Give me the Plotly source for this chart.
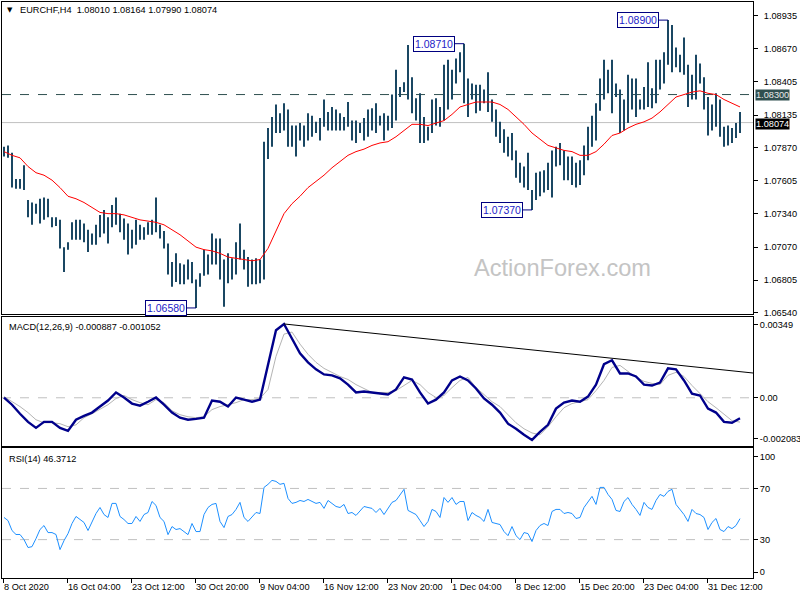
import plotly.graph_objects as go

# ---------------- data ----------------
bar_high = [1.0788, 1.0789, 1.0783, 1.0762, 1.0762, 1.0773, 1.0745, 1.0743, 1.0742, 1.0746,
            1.0747, 1.0746, 1.0731, 1.0731, 1.0729, 1.0707, 1.0711, 1.0727, 1.0729, 1.0729,
            1.0726, 1.0721, 1.0718, 1.0725, 1.0733, 1.0737, 1.0731, 1.0741, 1.0747, 1.0734,
            1.0730, 1.0726, 1.0721, 1.0729, 1.0725, 1.0723, 1.0727, 1.0729, 1.0747, 1.0725,
            1.0720, 1.0710, 1.0695, 1.0702, 1.0694, 1.0693, 1.0697, 1.0695, 1.0681, 1.0686,
            1.0705, 1.0701, 1.0718, 1.0714, 1.0714, 1.0697, 1.0702, 1.0698, 1.0711, 1.0726,
            1.0705, 1.0699, 1.0697, 1.0698, 1.0697, 1.0792, 1.0803, 1.0812, 1.0822, 1.0815,
            1.0823, 1.0818, 1.0805, 1.0805, 1.0807, 1.0805, 1.0815, 1.0813, 1.0808, 1.0811,
            1.0826, 1.0816, 1.0820, 1.0818, 1.0815, 1.0812, 1.0824, 1.0809, 1.0809, 1.0807,
            1.0811, 1.0818, 1.0819, 1.0823, 1.0813, 1.0815, 1.0813, 1.0830, 1.0850, 1.0836,
            1.0840, 1.0870, 1.0844, 1.0827, 1.0831, 1.0812, 1.0804, 1.0826, 1.0827, 1.0820,
            1.0854, 1.0858, 1.0850, 1.0859, 1.0864, 1.0871, 1.0843, 1.0839, 1.0838, 1.0838,
            1.0834, 1.0848, 1.0826, 1.0818, 1.0808, 1.0802, 1.0796, 1.0799, 1.0785, 1.0775,
            1.0772, 1.0783, 1.0753, 1.0767, 1.0768, 1.0769, 1.0775, 1.0785, 1.0788, 1.0791,
            1.0785, 1.0780, 1.0780, 1.0775, 1.0777, 1.0789, 1.0804, 1.0813, 1.0823, 1.0843,
            1.0858, 1.0850, 1.0858, 1.0839, 1.0834, 1.0826, 1.0846, 1.0843, 1.0843, 1.0826,
            1.0836, 1.0856, 1.0835, 1.0858, 1.0858, 1.0864, 1.0890, 1.0886, 1.0868, 1.0862,
            1.0876, 1.0854, 1.0846, 1.0862, 1.0855, 1.0844, 1.0828, 1.0822, 1.0831, 1.0826,
            1.0804, 1.0805, 1.0803, 1.0807, 1.0816]

bar_low = [1.0780, 1.0779, 1.0755, 1.0754, 1.0754, 1.0753, 1.0731, 1.0725, 1.0734, 1.0726,
           1.0729, 1.0731, 1.0723, 1.0724, 1.0706, 1.0687, 1.0705, 1.0713, 1.0713, 1.0713,
           1.0711, 1.0703, 1.0709, 1.0709, 1.0715, 1.0718, 1.0710, 1.0723, 1.0725, 1.0719,
           1.0713, 1.0701, 1.0706, 1.0709, 1.0713, 1.0713, 1.0717, 1.0717, 1.0719, 1.0714,
           1.0706, 1.0685, 1.0675, 1.0679, 1.0677, 1.0677, 1.0681, 1.0678, 1.0658, 1.0675,
           1.0684, 1.0685, 1.0693, 1.0693, 1.0681, 1.0659, 1.0678, 1.0681, 1.0685, 1.0697,
           1.0689, 1.0675, 1.0677, 1.0677, 1.0678, 1.0681, 1.0778, 1.0788, 1.0799, 1.0799,
           1.0801, 1.0788, 1.0788, 1.0780, 1.0793, 1.0788, 1.0793, 1.0796, 1.0799, 1.0793,
           1.0804, 1.0801, 1.0801, 1.0801, 1.0801, 1.0801, 1.0804, 1.0793, 1.0791, 1.0799,
           1.0793, 1.0796, 1.0801, 1.0799, 1.0805, 1.0793, 1.0801, 1.0803, 1.0809, 1.0828,
           1.0832, 1.0826, 1.0815, 1.0809, 1.0791, 1.0791, 1.0793, 1.0799, 1.0805, 1.0804,
           1.0809, 1.0818, 1.0826, 1.0839, 1.0848, 1.0823, 1.0812, 1.0826, 1.0815, 1.0817,
           1.0823, 1.0816, 1.0808, 1.0796, 1.0791, 1.0783, 1.0780, 1.0777, 1.0763, 1.0759,
           1.0755, 1.0753, 1.0737, 1.0745, 1.0748, 1.0751, 1.0753, 1.0747, 1.0772, 1.0773,
           1.0761, 1.0761, 1.0757, 1.0755, 1.0757, 1.0765, 1.0777, 1.0788, 1.0793, 1.0817,
           1.0826, 1.0831, 1.0815, 1.0828, 1.0799, 1.0801, 1.0807, 1.0818, 1.0812, 1.0818,
           1.0818, 1.0820, 1.0819, 1.0823, 1.0834, 1.0839, 1.0854, 1.0848, 1.0852, 1.0848,
           1.0846, 1.0820, 1.0826, 1.0826, 1.0839, 1.0818, 1.0797, 1.0801, 1.0804, 1.0796,
           1.0788, 1.0789, 1.0791, 1.0795, 1.0799]

# moving average, one reading every second bar
ma_values = [1.0784, 1.0781, 1.0779, 1.0772, 1.0767, 1.0765, 1.0761, 1.0755, 1.0748, 1.0746,
             1.0743, 1.0739, 1.0735, 1.0734, 1.0734, 1.0733, 1.0731, 1.0729, 1.0728, 1.0727,
             1.0725, 1.0721, 1.0717, 1.0712, 1.0707, 1.0705, 1.0704, 1.0702, 1.0699, 1.0698,
             1.0697, 1.0696, 1.0697, 1.0706, 1.0720, 1.0734, 1.0742, 1.0748, 1.0755, 1.0760,
             1.0765, 1.0771, 1.0776, 1.0781, 1.0784, 1.0786, 1.0789, 1.0791, 1.0792, 1.0796,
             1.0801, 1.0806, 1.0806, 1.0805, 1.0807, 1.0809, 1.0814, 1.0820, 1.0822, 1.0824,
             1.0824, 1.0824, 1.0822, 1.0818, 1.0812, 1.0806, 1.0799, 1.0794, 1.0789, 1.0787,
             1.0785, 1.0784, 1.0781, 1.0781, 1.0784, 1.0790, 1.0797, 1.0799, 1.0803, 1.0806,
             1.0808, 1.0811, 1.0816, 1.0822, 1.0828, 1.0830, 1.0832, 1.0833, 1.0831, 1.0830,
             1.0826, 1.0823, 1.0820]

macd_main = [0.00001, -0.00030, -0.00069, -0.00104, -0.00130, -0.00104, -0.00104, -0.00130, -0.00143, -0.00095,
             -0.00078, -0.00064, -0.00038, -0.00012, 0.00023, 0.00001, -0.00025, -0.00034, -0.00017, 0.00001,
             -0.00030, -0.00064, -0.00086, -0.00095, -0.00091, -0.00086, -0.00012, -0.00017, -0.00038, 0.00001,
             -0.00008, -0.00017, -0.00008, 0.00145, 0.00292, 0.00319, 0.00253, 0.00192, 0.00153, 0.00123,
             0.00101, 0.00097, 0.00084, 0.00057, 0.00023, 0.00027, 0.00023, 0.00018, 0.00014, 0.00036,
             0.00088, 0.00079, 0.00023, -0.00025, -0.00008, 0.00023, 0.00075, 0.00092, 0.00075, 0.00040,
             -0.00003, -0.00030, -0.00064, -0.00112, -0.00134, -0.00160, -0.00182, -0.00147, -0.00117, -0.00047,
             -0.00021, -0.00012, -0.00017, 0.00005, 0.00057, 0.00145, 0.00162, 0.00105, 0.00105, 0.00092,
             0.00057, 0.00053, 0.00066, 0.00127, 0.00123, 0.00075, 0.00018, 0.00010, -0.00047, -0.00064,
             -0.00104, -0.00108, -0.000887]

macd_signal = [0.00005, -0.00017, -0.00038, -0.00064, -0.00095, -0.00108, -0.00108, -0.00112, -0.00125, -0.00117,
               -0.00086, -0.00069, -0.00051, -0.00030, -0.00003, 0.00010, -0.00008, -0.00021, -0.00030, -0.00008,
               -0.00021, -0.00056, -0.00073, -0.00082, -0.00086, -0.00082, -0.00051, -0.00038, -0.00030, -0.00021,
               -0.00008, -0.00008, -0.00003, 0.00036, 0.00179, 0.00275, 0.00284, 0.00232, 0.00188, 0.00153,
               0.00127, 0.00110, 0.00092, 0.00079, 0.00057, 0.00040, 0.00023, 0.00023, 0.00023, 0.00031,
               0.00053, 0.00075, 0.00057, 0.00023, 0.00001, 0.00010, 0.00044, 0.00075, 0.00088, 0.00044,
               0.00014, -0.00017, -0.00038, -0.00073, -0.00108, -0.00134, -0.00152, -0.00160, -0.00125, -0.00082,
               -0.00043, -0.00025, -0.00017, -0.00008, 0.00031, 0.00075, 0.00131, 0.00140, 0.00114, 0.00088,
               0.00071, 0.00062, 0.00057, 0.00097, 0.00110, 0.00092, 0.00053, 0.00018, -0.00017, -0.00043,
               -0.00073, -0.00099, -0.001052]

rsi_values = [47.3, 44.9, 37.1, 34.0, 34.0, 30.0, 23.8, 24.5, 30.8, 37.9,
              41.0, 35.5, 35.5, 34.0, 22.2, 29.2, 34.7, 42.6, 48.1, 45.7,
              43.4, 37.1, 44.2, 50.4, 55.1, 49.6, 47.3, 58.3, 58.3, 48.1,
              45.7, 42.6, 42.6, 48.1, 44.2, 49.6, 51.2, 59.8, 56.7, 47.3,
              44.2, 33.9, 40.2, 37.9, 38.6, 36.3, 33.9, 42.6, 36.3, 36.3,
              49.6, 55.1, 57.5, 58.3, 44.2, 39.4, 48.1, 49.6, 53.6, 59.1,
              47.3, 44.2, 48.1, 51.2, 50.4, 70.8, 73.2, 76.3, 75.5, 73.2,
              74.0, 62.2, 58.3, 59.1, 60.6, 59.8, 61.4, 59.8, 58.3, 59.1,
              54.4, 60.6, 58.3, 55.9, 55.1, 57.5, 50.4, 51.2, 48.9, 52.0,
              55.9, 55.1, 54.4, 51.2, 54.4, 49.6, 54.4, 59.1, 60.6, 65.3,
              69.3, 52.8, 51.2, 49.6, 44.9, 40.2, 44.2, 53.6, 52.0, 47.3,
              62.9, 59.1, 62.9, 57.5, 59.8, 59.8, 44.9, 51.2, 48.9, 47.3,
              44.2, 53.6, 43.4, 42.6, 41.8, 36.3, 33.1, 40.2, 33.1, 30.0,
              35.5, 34.7, 28.5, 37.1, 41.0, 42.6, 41.0, 52.0, 53.6, 53.6,
              50.4, 51.2, 50.4, 46.5, 47.3, 55.1, 59.8, 63.8, 57.5, 70.8,
              70.8, 65.3, 61.4, 52.8, 52.0, 59.8, 62.9, 57.5, 53.6, 48.9,
              59.1, 55.1, 53.6, 60.6, 65.3, 63.8, 67.7, 69.3, 57.5, 53.6,
              49.6, 44.2, 53.6, 50.4, 49.6, 47.3, 37.9, 43.4, 46.5, 37.9,
              36.3, 40.2, 38.6, 41.0, 46.4]

time_labels = ["8 Oct 2020", "16 Oct 04:00", "23 Oct 12:00", "30 Oct 20:00",
               "9 Nov 04:00", "16 Nov 12:00", "23 Nov 20:00", "1 Dec 04:00",
               "8 Dec 12:00", "15 Dec 20:00", "23 Dec 04:00", "31 Dec 12:00"]
price_ticks = [1.08935, 1.08670, 1.08405, 1.08135, 1.07870, 1.07605,
               1.07340, 1.07070, 1.06805, 1.06540]

swing_bars = [48, 115, 132, 166]
swing_prices = [1.06580, 1.08710, 1.07370, 1.08900]

resistance_level = 1.08300
last_close = 1.08074
ohlc_text = ["1.08010", "1.08164", "1.07990", "1.08074"]

macd_trend_bars = [70, 187.25]
macd_trend_values = [0.00319, 0.00107]

macd_label = "MACD(12,26,9) -0.000887 -0.001052"
rsi_label = "RSI(14) 46.3712"

# ---------------- figure ----------------
FONT = "Liberation Sans, Arial, sans-serif"
BAR_COLOR = "#1a4763"

fig = go.Figure()

bx, by = [], []
for i, (h, l) in enumerate(zip(bar_high, bar_low)):
    bx += [i, i, None]
    by += [l, h, None]
fig.add_trace(go.Scatter(x=bx, y=by, mode="lines", line=dict(color=BAR_COLOR, width=2),
                         xaxis="x", yaxis="y", hoverinfo="skip"))

ma_x = [2 * k for k in range(len(ma_values))]
fig.add_trace(go.Scatter(x=ma_x, y=ma_values, mode="lines", line=dict(color="#ff0000", width=1),
                         xaxis="x", yaxis="y"))

mx = [2 * k for k in range(len(macd_main))]
fig.add_trace(go.Scatter(x=mx, y=macd_signal, mode="lines", line=dict(color="#b4b4b4", width=1),
                         xaxis="x2", yaxis="y2"))
fig.add_trace(go.Scatter(x=mx, y=macd_main, mode="lines", line=dict(color="#00008b", width=2.4),
                         xaxis="x2", yaxis="y2"))
fig.add_trace(go.Scatter(x=macd_trend_bars, y=macd_trend_values, mode="lines",
                         line=dict(color="#000000", width=1), xaxis="x2", yaxis="y2"))

rx = list(range(len(rsi_values)))
fig.add_trace(go.Scatter(x=rx, y=rsi_values, mode="lines", line=dict(color="#1e90ff", width=1),
                         xaxis="x3", yaxis="y3"))

xrange = [-0.5, 187.25]
axis_common = dict(showgrid=False, zeroline=False, showline=True, mirror=True,
                   linecolor="#000000", linewidth=1)

main_range = [1.06531, 1.09046]
macd_range = [-0.002083, 0.00349]
rsi_range = [0, 101.6]
ms = macd_range[1] - macd_range[0]
macd_tickvals = [macd_range[1] - 0.06 * ms, 0.0, macd_range[0] + 0.055 * ms]
rsi_tickvals = [94.8, 70, 30, 4.5]

fig.update_layout(
    width=800, height=600,
    margin=dict(l=2, r=47, t=2, b=22, autoexpand=False),
    paper_bgcolor="#ffffff", plot_bgcolor="#ffffff",
    showlegend=False,
    font=dict(family=FONT, size=9.2, color="#000000"),
    xaxis=dict(domain=[0, 1], anchor="y", range=xrange, showticklabels=False, ticks="", **axis_common),
    xaxis2=dict(domain=[0, 1], anchor="y2", range=xrange, matches="x", showticklabels=False, ticks="", **axis_common),
    xaxis3=dict(domain=[0, 1], anchor="y3", range=xrange, matches="x",
                tickvals=[16 * k - 0.25 for k in range(len(time_labels))], ticktext=time_labels,
                ticks="outside", ticklen=4, tickcolor="#000000", ticklabelposition="outside right",
                tickfont=dict(family=FONT, size=9.2, color="#000000"), **axis_common),
    yaxis=dict(domain=[0.4583, 1], anchor="x", range=main_range, side="right",
               tickvals=price_ticks, ticktext=["%.5f" % p for p in price_ticks],
               ticks="outside", ticklen=4, tickcolor="#000000", ticklabelstandoff=4, **axis_common),
    yaxis2=dict(domain=[0.2292, 0.4531], anchor="x2", range=macd_range, side="right",
                tickvals=macd_tickvals, ticktext=["0.00349", "0.00", "-0.002083"],
                ticks="outside", ticklen=4, tickcolor="#000000", ticklabelstandoff=0, **axis_common),
    yaxis3=dict(domain=[0, 0.2257], anchor="x3", range=rsi_range, side="right",
                tickvals=rsi_tickvals, ticktext=["100", "70", "30", "0"],
                ticks="outside", ticklen=4, tickcolor="#000000", ticklabelstandoff=0, **axis_common),
)

# level lines
fig.add_shape(type="line", xref="paper", x0=0, x1=1, yref="y", y0=resistance_level, y1=resistance_level,
              line=dict(color="#2f4f4f", width=1, dash="dash"), layer="below")
fig.add_shape(type="line", xref="paper", x0=0, x1=1, yref="y", y0=last_close, y1=last_close,
              line=dict(color="#c0c0c0", width=1), layer="below")
fig.add_shape(type="line", xref="paper", x0=0, x1=1, yref="y2", y0=0, y1=0,
              line=dict(color="#c0c0c0", width=1, dash="dash"), layer="below")
for lv in (70, 30):
    fig.add_shape(type="line", xref="paper", x0=0, x1=1, yref="y3", y0=lv, y1=lv,
                  line=dict(color="#c0c0c0", width=1, dash="dash"), layer="below")

# swing labels
for b, p in zip(swing_bars, swing_prices):
    fig.add_annotation(x=b, y=p, xref="x", yref="y", text="%.5f" % p,
                       showarrow=True, arrowhead=0, arrowwidth=1, arrowcolor="#000080",
                       ax=-30, ay=0, standoff=0,
                       bordercolor="#000080", borderwidth=1, borderpad=1, bgcolor="#ffffff",
                       font=dict(family=FONT, size=10.5, color="#1c1cc8"))

# right-side price tags
fig.add_annotation(x=1, xref="paper", xanchor="left", xshift=2, y=resistance_level, yref="y",
                   text="1.08300", showarrow=False, bgcolor="#2f4f4f", borderpad=0,
                   font=dict(family=FONT, size=9.2, color="#e8e8e8"))
fig.add_annotation(x=1, xref="paper", xanchor="left", xshift=2, y=last_close, yref="y", yshift=-1,
                   text=ohlc_text[3], showarrow=False, bgcolor="#000000", borderpad=0,
                   font=dict(family=FONT, size=9.2, color="#ffffff"))

# panel titles
fig.add_annotation(x=0.0107, y=0.9861, xref="paper", yref="paper", xanchor="center", yanchor="middle",
                   text="▼", showarrow=False, font=dict(family="DejaVu Sans", size=7, color="#000000"))
fig.add_annotation(x=0.0213, y=0.9861, xref="paper", yref="paper", xanchor="left", yanchor="middle",
                   text="EURCHF,H4\u00a0\u00a0" + " ".join(ohlc_text), showarrow=False,
                   font=dict(family=FONT, size=9.2, color="#000000"))
fig.add_annotation(x=0.0067, y=0.4358, xref="paper", yref="paper", xanchor="left", yanchor="middle",
                   text=macd_label, showarrow=False, font=dict(family=FONT, size=9.2, color="#000000"))
fig.add_annotation(x=0.0067, y=0.2066, xref="paper", yref="paper", xanchor="left", yanchor="middle",
                   text=rsi_label, showarrow=False, font=dict(family=FONT, size=9.2, color="#000000"))

# watermark
fig.add_annotation(x=0.7457, y=0.538, xref="paper", yref="paper", xanchor="center", yanchor="middle",
                   text="ActionForex.com", showarrow=False,
                   font=dict(family=FONT, size=23.6, color="#c4c4c4"))

fig.write_html("out.html", config={"displayModeBar": False, "staticPlot": True},
               post_script="document.body.style.margin='0px';document.body.style.overflow='hidden';")
